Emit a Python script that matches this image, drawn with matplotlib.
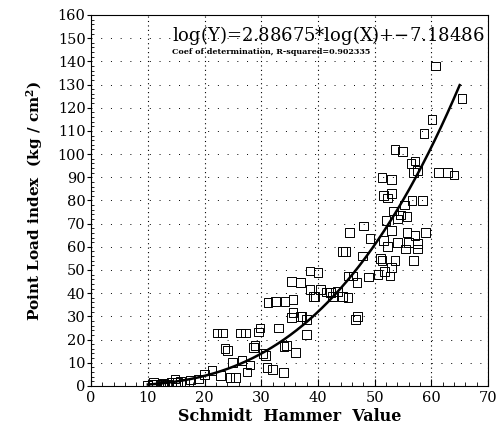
import matplotlib
matplotlib.use("Agg")
import matplotlib.pyplot as plt
from matplotlib.ticker import MultipleLocator
import numpy as np

plt.rcParams.update({
    "font.family": "serif",
    "font.serif": ["DejaVu Serif", "Liberation Serif"],
    "font.size": 11,
    "mathtext.fontset": "dejavuserif",
})

# Schmidt hammer value vs point load index
hammer = [
    10.0, 10.8, 11.5, 12.2, 12.8, 13.5, 14.2, 14.8, 15.2, 15.8, 16.5, 17.5, 11.0, 13.0,
    19.0, 20.0, 21.3, 22.2, 23.1, 22.8, 24.0, 24.5, 25.0, 25.4, 26.3, 26.6, 27.2,
    28.6, 28.9, 29.5, 29.8, 27.5, 28.0, 23.6, 32.0, 34.0,
    30.3, 30.7, 31.0, 31.2, 32.5, 33.9, 34.2, 34.5, 35.4, 35.6, 35.6, 35.4, 36.0,
    36.9, 36.9, 37.2, 38.0, 38.0, 38.6, 38.6, 39.2, 39.5, 33.0,
    40.0, 40.4, 41.5, 42.2, 42.5, 43.4, 44.3, 44.4, 44.8, 45.3, 45.3, 45.5, 46.2,
    46.6, 46.9, 47.0, 47.8, 48.0, 48.9, 49.2,
    50.6, 51.0, 51.3, 51.3, 51.5, 51.5, 51.8, 52.0, 52.2, 52.2, 52.7, 53.0, 53.0,
    53.0, 53.0, 53.3, 53.6, 53.6, 54.0, 54.0, 54.5, 54.9, 55.2, 55.4, 55.7, 55.7,
    56.0, 56.4, 56.6, 56.8, 56.8, 57.1, 57.1, 57.5, 57.5, 57.5, 58.4, 58.7, 59.0,
    60.1, 60.8, 61.2, 62.8, 64.0, 65.4,
]
point_load = [
    0.3, 0.5, 0.5, 0.8, 1.0, 0.8, 1.5, 3.0, 1.5, 2.0, 1.2, 2.5, 1.5, 0.3,
    3.0, 5.0, 6.6, 22.8, 22.8, 4.4, 15.4, 3.5, 10.0, 3.5, 22.8, 11.0, 22.8,
    16.7, 17.5, 23.2, 25.0, 6.0, 9.0, 16.0, 7.0, 17.0,
    14.0, 13.0, 8.0, 36.0, 36.4, 5.7, 36.4, 17.5, 45.0, 31.6, 37.3, 29.4, 14.5,
    29.8, 44.7, 30.0, 28.5, 22.0, 49.6, 41.7, 38.6, 38.6, 25.0,
    49.0, 41.7, 40.5, 40.3, 38.6, 40.8, 38.6, 58.0, 58.0, 47.4, 38.0, 66.0, 47.4,
    28.5, 44.7, 30.0, 56.0, 69.0, 47.0, 63.6,
    48.0, 55.0, 90.0, 54.0, 62.7, 82.0, 49.5, 71.5, 60.0, 81.0, 47.4, 89.0, 83.0,
    67.0, 51.0, 75.4, 54.0, 102.0, 62.0, 72.0, 73.7, 101.0, 78.0, 59.0, 73.0, 66.0,
    62.0, 96.0, 80.0, 92.0, 54.0, 97.0, 65.0, 93.0, 59.0, 61.4, 80.0, 109.0, 66.0,
    115.0, 138.0, 92.0, 92.0, 91.0, 124.0,
]

# fitted model shown on the chart: ln(Y) = slope * ln(X) + intercept
slope = 2.88675
intercept = -7.18486
r_squared = 0.902335
fit_range = (10, 65)

fig = plt.figure(figsize=(4.98, 4.40), dpi=100)
ax = fig.add_axes([0.183, 0.123, 0.797, 0.843])

ax.scatter(hammer, point_load, marker="s", s=40, facecolors="none",
           edgecolors="black", linewidths=0.7, zorder=3)

xs = np.linspace(fit_range[0], fit_range[1], 200)
ax.plot(xs, np.exp(intercept) * xs ** slope, color="black", linewidth=1.8, zorder=4)

ax.set_xlim(0, 70)
ax.set_ylim(0, 160)
ax.xaxis.set_major_locator(MultipleLocator(10))
ax.xaxis.set_minor_locator(MultipleLocator(2))
ax.yaxis.set_major_locator(MultipleLocator(10))
ax.yaxis.set_minor_locator(MultipleLocator(2))
ax.tick_params(axis="x", which="major", direction="in", length=5, labelsize=10.5)
ax.tick_params(axis="x", which="minor", direction="in", length=3)
ax.tick_params(axis="y", which="major", direction="out", length=3, labelsize=10.5, pad=1)
ax.tick_params(axis="y", which="minor", direction="in", length=2)

ax.xaxis.grid(True, which="major", color="black", linestyle=(0, (1, 3)), linewidth=0.8)
ax.yaxis.grid(True, which="major", color="black", linestyle=(0, (1, 9)), linewidth=0.7)
ax.set_axisbelow(True)

ax.set_xlabel("Schmidt  Hammer  Value", fontsize=11.5, fontweight="bold", labelpad=2)
ax.set_ylabel("Point Load index  (kg / cm$^\\mathbf{2}$)", fontsize=11,
              fontweight="bold", labelpad=9)

ax.text(0.99, 0.975, f"log(Y)={slope}*log(X)+$-${abs(intercept)}",
        transform=ax.transAxes, ha="right", va="top", fontsize=13)
ax.text(0.205, 0.912, f"Coef of determination, R-squared={r_squared}",
        transform=ax.transAxes, ha="left", va="top", fontsize=5.8, fontweight="bold")

fig.savefig("out.png", dpi=100)
